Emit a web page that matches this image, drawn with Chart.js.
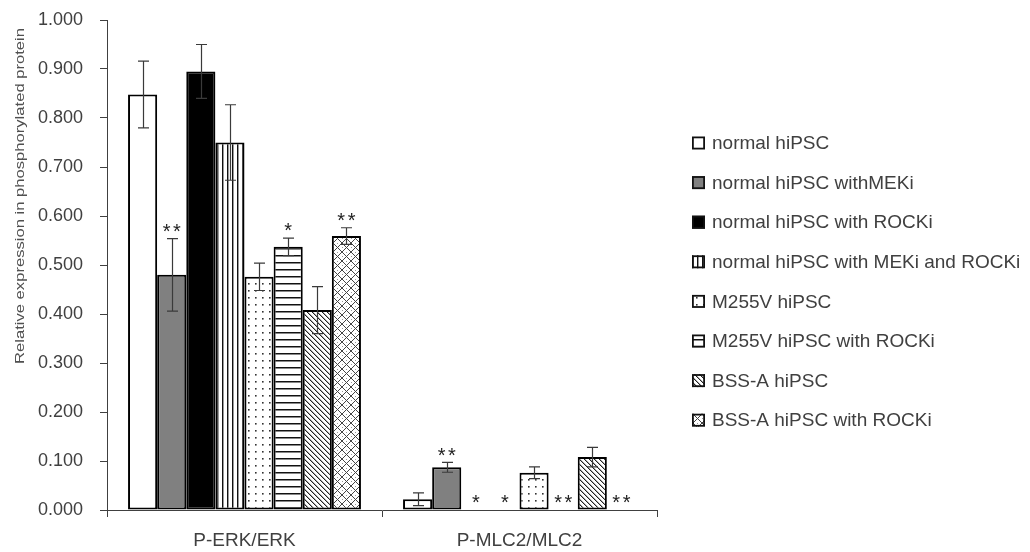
<!DOCTYPE html>
<html>
<head>
<meta charset="utf-8">
<script src="https://cdn.jsdelivr.net/npm/chart.js@4.4.1/dist/chart.umd.min.js"></script>
<style>
  html, body { margin: 0; padding: 0; background: #fff; }
  #wrap { width: 1030px; height: 552px; }
</style>
</head>
<body>
<div id="wrap"><canvas id="c" width="1030" height="552"></canvas></div>
<script>
// Categories (x axis)
const categories = ['P-ERK/ERK', 'P-MLC2/MLC2'];

// Series names
const seriesLabels = [
  'normal hiPSC',
  'normal hiPSC withMEKi',
  'normal hiPSC with ROCKi',
  'normal hiPSC with MEKi and ROCKi',
  'M255V hiPSC',
  'M255V hiPSC with ROCKi',
  'BSS-A hiPSC',
  'BSS-A hiPSC with ROCKi'
];

// Mean relative expression per category
const normalValues      = [0.848, 0.022];
const mekiValues        = [0.480, 0.087];
const rockiValues       = [0.895, 0.000];
const mekiRockiValues   = [0.750, 0.000];
const m255vValues       = [0.476, 0.076];
const m255vRockiValues  = [0.537, 0.000];
const bssaValues        = [0.408, 0.108];
const bssaRockiValues   = [0.559, 0.000];

// Error bar half-lengths (null = no error bar)
const normalErrors      = [0.068, 0.013];
const mekiErrors        = [0.074, 0.010];
const rockiErrors       = [0.055, null];
const mekiRockiErrors   = [0.077, null];
const m255vErrors       = [0.028, 0.012];
const m255vRockiErrors  = [0.018, null];
const bssaErrors        = [0.048, 0.020];
const bssaRockiErrors   = [0.017, null];

// Significance marks
const normalSig      = ['', ''];
const mekiSig        = ['**', '**'];
const rockiSig       = ['', '*'];
const mekiRockiSig   = ['', '*'];
const m255vSig       = ['', ''];
const m255vRockiSig  = ['*', '**'];
const bssaSig        = ['', ''];
const bssaRockiSig   = ['**', '**'];

// Y axis ticks
const yMin = 0, yMax = 1, yStep = 0.1;
const yTitle = 'Relative expression in phosphorylated protein';

const FONT = "'Liberation Sans', Arial, sans-serif";
const TEXT = '#404040';

// ---- fill patterns ----
function makePattern(w, h, draw) {
  const c = document.createElement('canvas');
  c.width = w; c.height = h;
  const g = c.getContext('2d');
  g.fillStyle = '#fff';
  g.fillRect(0, 0, w, h);
  draw(g, w, h);
  return g.createPattern(c, 'repeat');
}
const fills = [
  '#ffffff',
  '#808080',
  '#000000',
  makePattern(5, 5, (g, w, h) => {           // vertical stripes
    g.fillStyle = '#111'; g.fillRect(2, 0, 1, h);
    g.fillStyle = '#999'; g.fillRect(3, 0, 1, h);
  }),
  makePattern(7, 7, (g) => {                 // sparse dots
    g.fillStyle = '#333'; g.fillRect(3, 3, 1.6, 1.6);
  }),
  makePattern(7, 7, (g, w) => {              // horizontal stripes
    g.fillStyle = '#111'; g.fillRect(0, 3, w, 1);
    g.fillStyle = '#888'; g.fillRect(0, 4, w, 1);
  }),
  makePattern(5, 5, (g) => {                 // wide downward diagonal
    for (let i = 0; i < 5; i++) {
      g.fillStyle = '#222'; g.fillRect(i, i, 1, 1);
      g.fillStyle = '#aaa'; g.fillRect((i + 1) % 5, i, 1, 1);
    }
  }),
  makePattern(9, 9, (g) => {                 // diamond lattice
    g.fillStyle = '#444';
    for (let i = 0; i < 9; i++) { g.fillRect(i, i, 1, 1); g.fillRect(8 - i, i, 1, 1); }
    g.fillStyle = '#999';
    g.fillRect(0, 4, 1, 1); g.fillRect(4, 0, 1, 1);
  })
];

const valueSets = [normalValues, mekiValues, rockiValues, mekiRockiValues, m255vValues, m255vRockiValues, bssaValues, bssaRockiValues];
const errorSets = [normalErrors, mekiErrors, rockiErrors, mekiRockiErrors, m255vErrors, m255vRockiErrors, bssaErrors, bssaRockiErrors];
const sigSets   = [normalSig, mekiSig, rockiSig, mekiRockiSig, m255vSig, m255vRockiSig, bssaSig, bssaRockiSig];

const datasets = seriesLabels.map((label, i) => ({
  label,
  data: valueSets[i],
  errors: errorSets[i],
  sig: sigSets[i],
  backgroundColor: fills[i],
  borderColor: '#000',
  borderWidth: 2,
  borderSkipped: false,
  categoryPercentage: 0.847,
  barPercentage: 1.0
}));

// Error bars and significance asterisks
const errorBarPlugin = {
  id: 'errorBars',
  afterDatasetsDraw(chart) {
    const ctx = chart.ctx;
    const y = chart.scales.y;
    ctx.save();
    chart.data.datasets.forEach((ds, i) => {
      const meta = chart.getDatasetMeta(i);
      meta.data.forEach((bar, j) => {
        const v = ds.data[j];
        const e = ds.errors[j];
        const x = Math.round(bar.x) + 0.5;
        if (e != null) {
          const top = y.getPixelForValue(v + e);
          const bot = y.getPixelForValue(Math.max(0, v - e));
          ctx.strokeStyle = '#3a3a3a';
          ctx.lineWidth = 1.2;
          ctx.beginPath();
          ctx.moveTo(x, top); ctx.lineTo(x, bot);
          ctx.moveTo(x - 5.5, top); ctx.lineTo(x + 5.5, top);
          ctx.moveTo(x - 5.5, bot); ctx.lineTo(x + 5.5, bot);
          ctx.stroke();
        }
        const s = ds.sig[j];
        if (s) {
          const cy = y.getPixelForValue(v + (e || 0)) - 12.5;
          ctx.fillStyle = '#222';
          ctx.font = '20px ' + FONT;
          ctx.textAlign = 'center';
          ctx.textBaseline = 'alphabetic';
          for (let k = 0; k < s.length; k++) {
            const cx = bar.x + (k - (s.length - 1) / 2) * 10.3;
            ctx.fillText('*', cx, cy + 11.6);
          }
        }
      });
    });
    ctx.restore();
  }
};

// Legend at the right and the stretched y axis title
const sidePlugin = {
  id: 'sideItems',
  afterDraw(chart) {
    const ctx = chart.ctx;
    const area = chart.chartArea;
    ctx.save();
    const bx = area.right + 35;
    chart.data.datasets.forEach((ds, i) => {
      const cy = 143 + i * 39.6;
      ctx.fillStyle = ds.backgroundColor;
      ctx.fillRect(bx, cy - 6.5, 13, 13);
      ctx.strokeStyle = '#111';
      ctx.lineWidth = 1.8;
      ctx.strokeRect(bx + 0.9, cy - 5.6, 11.2, 11.2);
      ctx.fillStyle = TEXT;
      ctx.font = '19px ' + FONT;
      ctx.textAlign = 'left';
      ctx.textBaseline = 'middle';
      ctx.fillText(ds.label, bx + 20, cy + 1);
    });
    // y axis title
    ctx.translate(20, 196);
    ctx.rotate(-Math.PI / 2);
    ctx.font = '13px ' + FONT;
    const w = ctx.measureText(yTitle).width;
    ctx.scale(336 / w, 1);
    ctx.fillStyle = '#505050';
    ctx.textAlign = 'center';
    ctx.textBaseline = 'middle';
    ctx.fillText(yTitle, 0, 0);
    ctx.restore();
  }
};

new Chart(document.getElementById('c'), {
  type: 'bar',
  data: { labels: categories, datasets },
  plugins: [errorBarPlugin, sidePlugin],
  options: {
    responsive: false,
    animation: false,
    layout: { padding: { left: 0, right: 373, top: 20, bottom: 0 } },
    plugins: { legend: { display: false }, tooltip: { enabled: false } },
    scales: {
      x: {
        offset: true,
        grid: { offset: true, drawOnChartArea: false, tickLength: 7, color: '#404040' },
        border: { color: '#404040', width: 1 },
        ticks: { color: TEXT, font: { family: FONT, size: 19 }, padding: 12 },
        afterFit(s) { s.height = 42; s.paddingLeft = 0; s.paddingRight = 0; }
      },
      y: {
        min: yMin, max: yMax,
        grid: { drawOnChartArea: false, tickLength: 7, color: '#404040' },
        border: { color: '#404040', width: 1 },
        ticks: {
          stepSize: yStep,
          color: TEXT,
          font: { family: FONT, size: 18 },
          padding: 17,
          callback: v => Number(v).toFixed(3)
        },
        afterFit(s) { s.width = 107; s.paddingTop = 0; s.paddingBottom = 0; }
      }
    }
  }
});
</script>
</body>
</html>
